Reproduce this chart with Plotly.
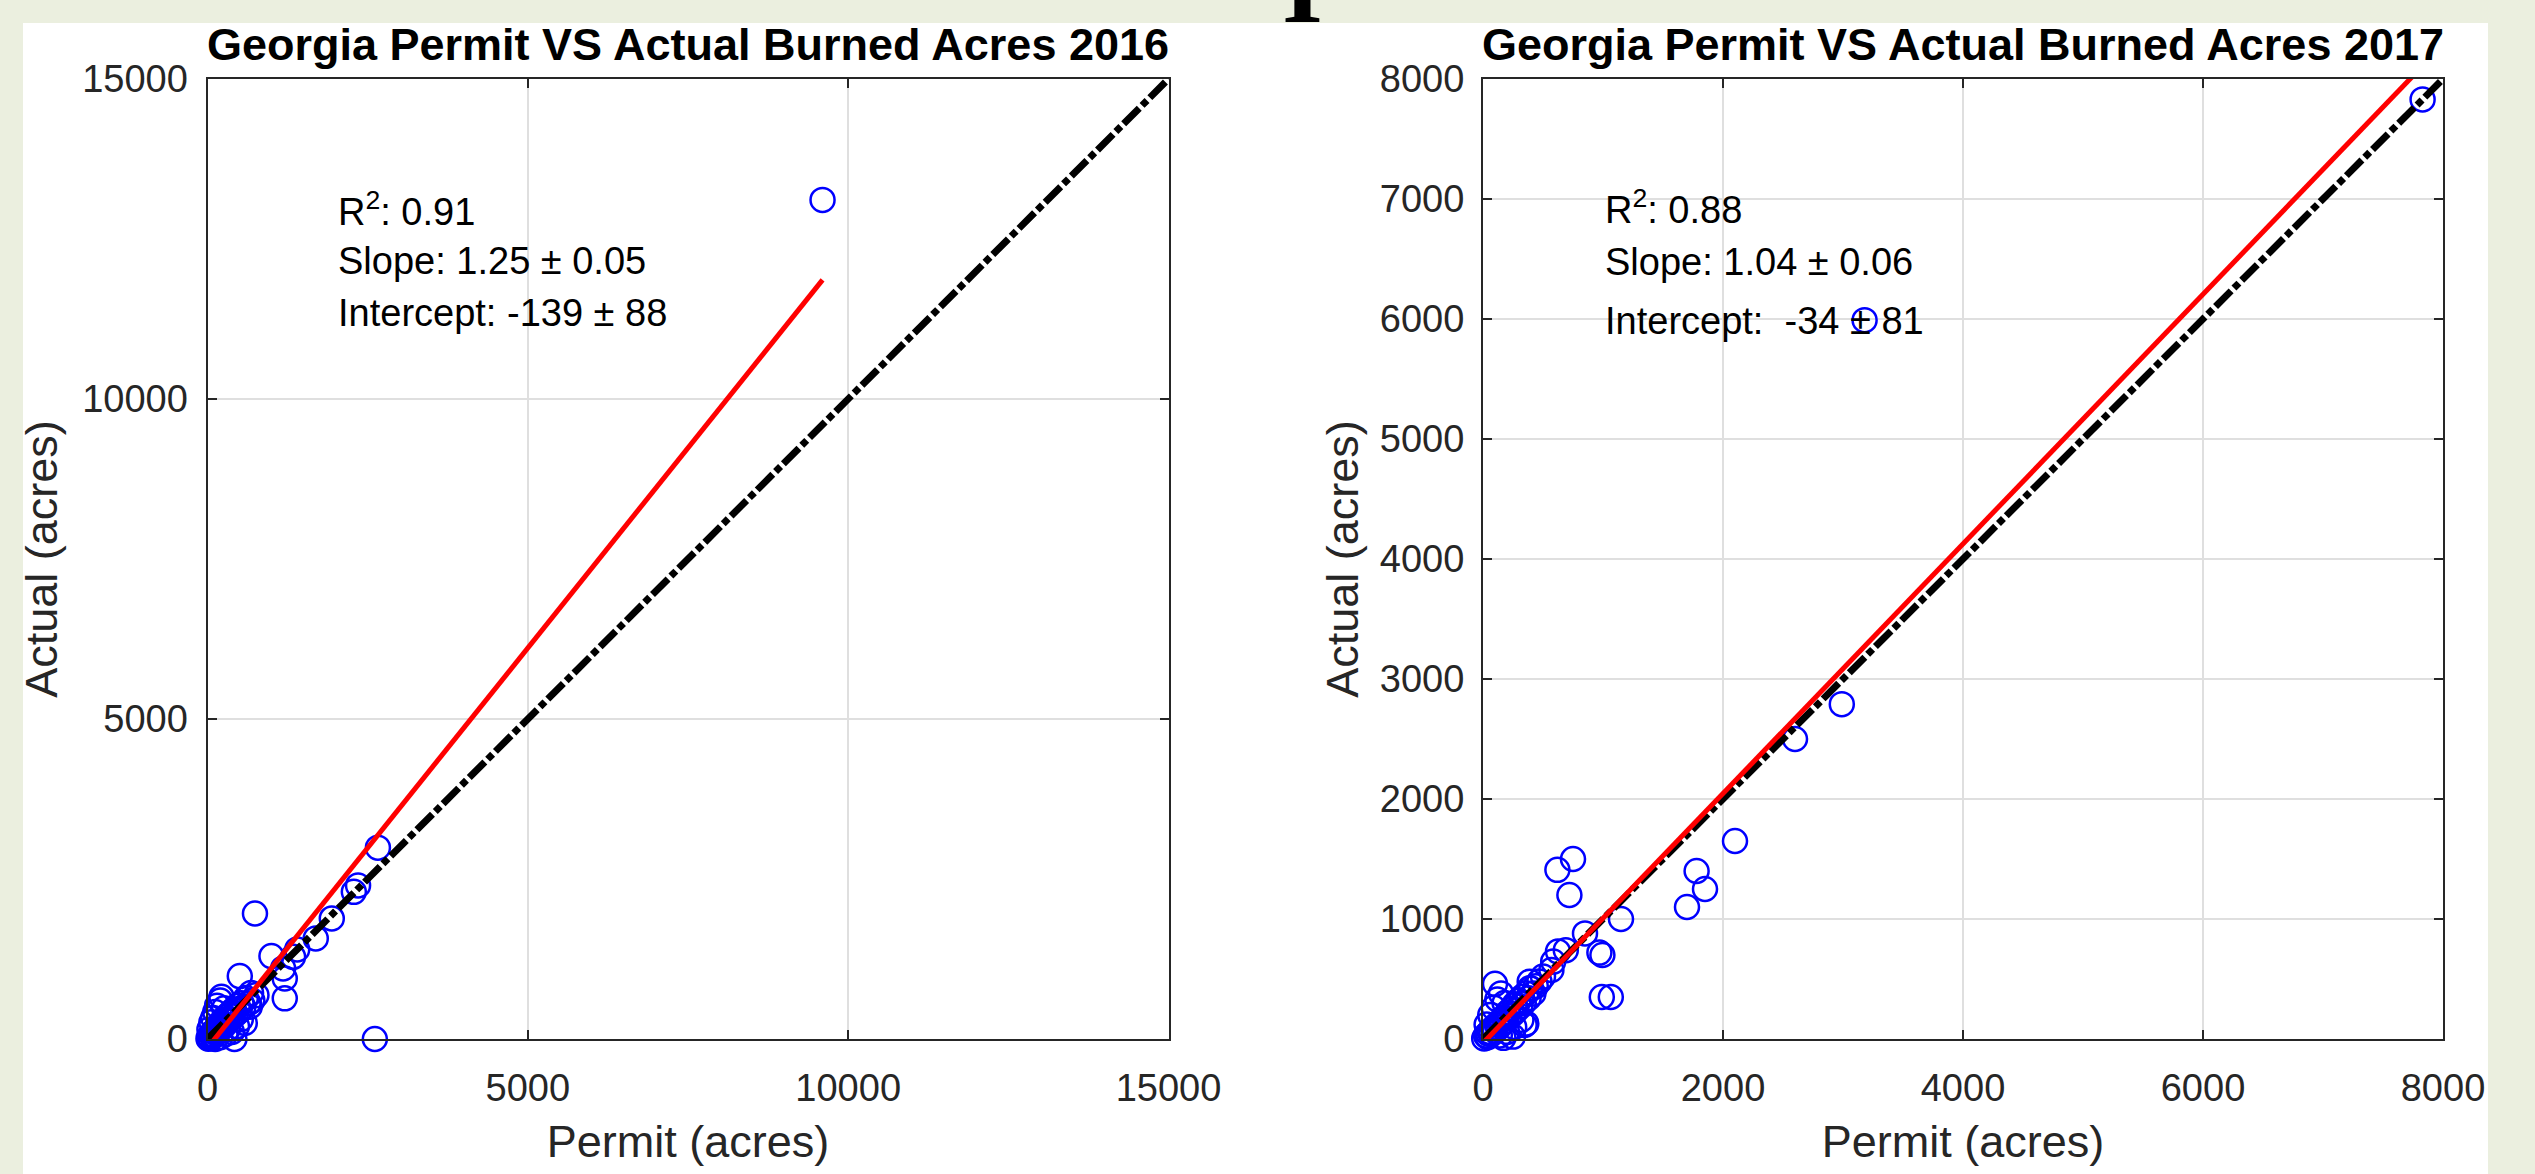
import plotly.graph_objects as go

# ---------------- data ----------------
permit_2016 = [9600, 2660, 2284, 2350, 1940, 1690, 1336, 1180, 1206, 1206, 998, 741, 2612,
               504, 660, 582, 420, 218, 764, 1400,
               15, 30, 45, 60, 75, 90, 105, 120, 135, 150, 165, 180, 200, 215, 230, 250, 270,
               290, 310, 330, 350, 370, 390, 410, 440, 470, 500, 530, 560, 600, 640, 680,
               30, 60, 90, 120, 150, 200, 260, 320, 380, 460, 120, 200, 280, 520, 700]
actual_2016 = [13110, 2990, 2299, 2400, 1883, 1571, 1285, 1103, 947, 635, 1295, 1961, 0,
               983, 504, 250, 0, 660, 686, 1400,
               5, 40, 15, 70, 30, 110, 60, 140, 95, 180, 120, 210, 150, 260, 190, 300, 220,
               340, 270, 380, 300, 420, 350, 460, 390, 520, 440, 560, 500, 640, 560, 720,
               150, 260, 330, 420, 520, 600, 480, 160, 110, 200, 0, 30, 80, 310, 600]

permit_2017 = [7830, 3180, 2990, 2600, 2100, 1780, 1850, 1700, 1150, 750, 620, 720, 850,
               970, 995, 990, 1065, 625, 690, 570, 585, 500, 470,
               10, 25, 40, 55, 70, 85, 100, 115, 130, 145, 160, 175, 190, 205, 220, 235, 250,
               265, 280, 295, 310, 325, 340, 360, 380, 400, 420, 440, 30, 60, 90, 120, 150,
               180, 140, 200, 260, 320, 361, 250, 42, 347, 170, 100, 389, 389]
actual_2017 = [7830, 5990, 2790, 2500, 1650, 1400, 1250, 1100, 1000, 1500, 1410, 1200, 880,
               720, 700, 350, 350, 730, 740, 575, 645, 520, 480,
               5, 30, 15, 60, 40, 90, 70, 120, 95, 150, 130, 180, 150, 220, 190, 250, 210,
               290, 240, 320, 270, 350, 300, 380, 340, 420, 380, 440, 120, 200, 260, 330, 380,
               300, 30, 60, 100, 160, 130, 20, 47, 117, 10, 460, 422, 478]

# linear fit statistics printed on each panel
r2_values = [0.91, 0.88]
slopes = [1.25, 1.04]
slope_errors = [0.05, 0.06]
intercepts = [-139, -34]
intercept_errors = [88, 81]

years = ["2016", "2017"]
axis_ranges = [[0, 15000], [0, 8000]]
x_ticks = [[0, 5000, 10000, 15000], [0, 2000, 4000, 6000, 8000]]
y_ticks = [[0, 5000, 10000, 15000], [0, 1000, 2000, 3000, 4000, 5000, 6000, 7000, 8000]]

# ---------------- figure ----------------
W, H = 2535, 1174
FONT = "Liberation Sans, Arial, sans-serif"
AXC = "#262626"

def px_x(p):
    return p / W

def px_y(p):
    return 1 - p / H

panels = [
    dict(permit=permit_2016, actual=actual_2016, xa="x", ya="y",
         xdom=[px_x(207.5), px_x(1168.5)], text_pos=(2000, [12975, 12150, 11350]),
         ystand=10, ytlstand=10),
    dict(permit=permit_2017, actual=actual_2017, xa="x2", ya="y2",
         xdom=[px_x(1483), px_x(2443)], text_pos=(1000, [6935, 6475, 5983]),
         ystand=7, ytlstand=9),
]
ydom = [px_y(1039), px_y(79)]

fig = go.Figure()
annotations = []
layout_axes = {}

for i, p in enumerate(panels):
    fig.add_trace(go.Scatter(
        x=p["permit"], y=p["actual"], mode="markers", xaxis=p["xa"], yaxis=p["ya"],
        marker=dict(symbol="circle-open", size=24, color="#0000FF",
                    line=dict(width=2.5, color="#0000FF")),
        cliponaxis=False, showlegend=False, hoverinfo="x+y"))
    rng = axis_ranges[i]
    fig.add_trace(go.Scatter(
        x=rng, y=rng, mode="lines", xaxis=p["xa"], yaxis=p["ya"],
        line=dict(color="black", width=7, dash="22px,4px,7px,4px"), showlegend=False))
    xmin, xmax = min(p["permit"]), max(p["permit"])
    fig.add_trace(go.Scatter(
        x=[xmin, xmax],
        y=[slopes[i] * xmin + intercepts[i], slopes[i] * xmax + intercepts[i]],
        mode="lines", xaxis=p["xa"], yaxis=p["ya"],
        line=dict(color="#FF0000", width=5), showlegend=False))

    common = dict(showline=True, linecolor=AXC, linewidth=2, mirror="ticks",
                  ticks="inside", ticklen=9, tickwidth=2, tickcolor=AXC,
                  showgrid=True, gridcolor="#DFDFDF", gridwidth=2, zeroline=False,
                  tickfont=dict(family=FONT, size=38, color=AXC), range=rng,
                  tickformat="d", automargin=False, fixedrange=True)
    xkey = "xaxis" if i == 0 else "xaxis2"
    ykey = "yaxis" if i == 0 else "yaxis2"
    layout_axes[xkey] = dict(common, domain=p["xdom"], anchor=p["ya"], tickvals=x_ticks[i],
                             ticklabelstandoff=14,
                             title=dict(text="Permit (acres)", standoff=18,
                                        font=dict(family=FONT, size=45, color=AXC)))
    layout_axes[ykey] = dict(common, domain=ydom, anchor=p["xa"], tickvals=y_ticks[i],
                             ticklabelstandoff=p["ytlstand"],
                             title=dict(text="Actual (acres)", standoff=p["ystand"],
                                        font=dict(family=FONT, size=45, color=AXC)))

    # subplot title
    annotations.append(dict(
        text="<b>Georgia Permit VS Actual Burned Acres " + years[i] + "</b>",
        xref="paper", yref="paper", x=(p["xdom"][0] + p["xdom"][1]) / 2, y=px_y(45),
        xanchor="center", yanchor="middle", showarrow=False,
        font=dict(family=FONT, size=45, color="black")))

    # fit statistics
    tx, tys = p["text_pos"]
    sep = " " if i == 0 else " \u00a0"
    lines = ["R<sup>2</sup>: %.2f" % r2_values[i],
             "Slope: %.2f \u00b1 %.2f" % (slopes[i], slope_errors[i]),
             "Intercept:%s%d \u00b1 %d" % (sep, intercepts[i], intercept_errors[i])]
    for line, ty in zip(lines, tys):
        annotations.append(dict(
            text=line, xref=p["xa"], yref=p["ya"], x=tx, y=ty,
            xanchor="left", yanchor="middle", showarrow=False,
            font=dict(family=FONT, size=38, color="black")))

# cut-off glyph of a slide heading above the figure
annotations.append(dict(
    text="<b>I</b>", xref="paper", yref="paper", x=px_x(1280), y=px_y(47),
    xanchor="left", yanchor="bottom", showarrow=False,
    font=dict(family="Liberation Serif, Times New Roman, serif", size=105, color="black")))

fig.update_layout(
    template="none",
    width=W, height=H, autosize=False,
    margin=dict(l=0, r=0, t=0, b=0, pad=0, autoexpand=False),
    paper_bgcolor="#EBEFDF", plot_bgcolor="white",
    showlegend=False,
    font=dict(family=FONT, color=AXC),
    annotations=annotations,
    shapes=[dict(type="rect", xref="paper", yref="paper",
                 x0=px_x(23), x1=px_x(2488), y0=0, y1=px_y(23),
                 fillcolor="white", line=dict(width=0), layer="below")],
    **layout_axes,
)

fig.write_html("out.html", post_script="document.body.style.margin='0';",
               config={"displayModeBar": False})
